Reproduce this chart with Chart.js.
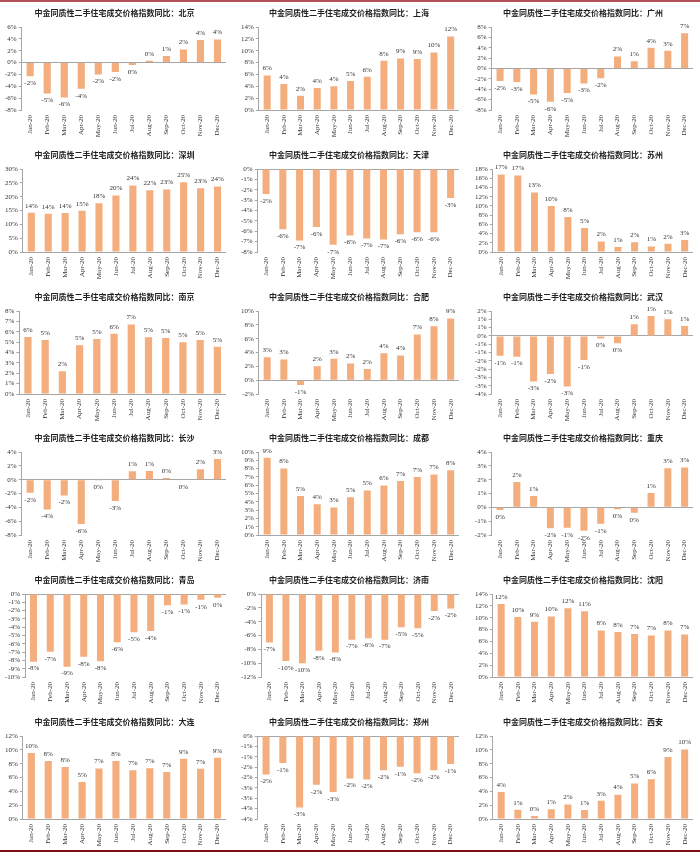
<!DOCTYPE html>
<html>
<head>
<meta charset="utf-8">
<script src="https://cdn.jsdelivr.net/npm/chart.js@4"></script>
<style>
  body { margin: 0; background: #fff; }
  #wrap { position: relative; width: 700px; height: 853px; overflow: hidden; }
  #wrap canvas { position: absolute; }
  .rule { position: absolute; left: 0; width: 700px; }
</style>
</head>
<body>
<div id="wrap">
  <div class="rule" style="top:0;height:2px;background:#b4505a;"></div>
  <div class="rule" style="top:850px;height:2px;background:#7a1216;"></div>
</div>
<script>
const months = ["Jan-20", "Feb-20", "Mar-20", "Apr-20", "May-20", "Jun-20",
  "Jul-20", "Aug-20", "Sep-20", "Oct-20", "Nov-20", "Dec-20"];
const titlePrefix = "中金同质性二手住宅成交价格指数同比：";

// YoY %
const beijing = [-2.3, -5.2, -5.9, -4.4, -2.0, -1.6, -0.4, 0.3, 1.1, 2.2, 3.8, 3.9];
const shanghai = [5.8, 4.4, 2.4, 3.7, 4.0, 4.9, 5.6, 8.3, 8.7, 8.6, 9.7, 12.4];
const guangzhou = [-2.4, -2.6, -5.0, -6.4, -4.7, -2.9, -1.9, 2.3, 1.4, 4.0, 3.4, 6.8];
const shenzhen = [14.2, 13.8, 14.1, 14.9, 17.6, 20.4, 24.0, 22.3, 22.6, 25.2, 23.0, 23.7];
const tianjin = [-2.4, -5.8, -6.9, -5.6, -7.3, -6.4, -6.7, -6.8, -6.3, -6.1, -6.1, -2.8];
const suzhou = [16.8, 16.6, 12.9, 10.0, 7.6, 5.2, 2.3, 1.1, 2.1, 1.2, 1.8, 2.6];
const nanjing = [5.5, 5.2, 2.2, 4.7, 5.3, 5.8, 6.7, 5.48, 5.4, 5.0, 5.2, 4.55];
const hefei = [3.3, 3.0, -0.7, 2.0, 3.1, 2.4, 1.6, 3.9, 3.55, 6.6, 7.8, 8.9];
const wuhan = [-1.2, -1.25, -2.75, -2.3, -3.05, -1.45, -0.15, -0.45, 0.7, 1.2, 1.0, 0.6];
const changsha = [-1.9, -4.3, -2.3, -6.4, -0.02, -3.1, 1.2, 1.25, 0.25, -0.1, 1.52, 3.0];
const chengdu = [9.3, 8.0, 4.7, 3.7, 3.3, 4.55, 5.35, 5.95, 6.52, 7.0, 7.3, 7.8];
const chongqing = [-0.2, 1.83, 0.82, -1.52, -1.47, -1.7, -1.18, -0.14, -0.4, 1.04, 2.82, 2.88];
const qingdao = [-8.15, -6.95, -8.75, -7.55, -8.1, -5.8, -4.6, -4.45, -1.35, -1.25, -0.7, -0.45];
const jinan = [-7.0, -9.7, -10.0, -8.2, -8.45, -6.6, -6.4, -6.6, -4.8, -4.95, -2.45, -2.1];
const shenyang = [12.3, 10.1, 9.3, 10.2, 11.6, 11.1, 7.85, 7.6, 7.25, 7.0, 7.85, 7.15];
const dalian = [9.55, 8.4, 7.52, 5.35, 7.3, 8.4, 7.05, 7.35, 6.8, 8.7, 7.25, 8.85];
const zhengzhou = [-1.85, -1.3, -3.45, -2.35, -2.7, -2.05, -2.1, -1.65, -1.48, -1.8, -1.65, -1.35];
const xian = [3.9, 1.35, 0.45, 1.4, 2.1, 1.3, 2.65, 3.52, 5.15, 5.75, 8.95, 10.05];

const cities = ["北京", "上海", "广州", "深圳", "天津", "苏州", "南京", "合肥", "武汉",
  "长沙", "成都", "重庆", "青岛", "济南", "沈阳", "大连", "郑州", "西安"];
const series = [beijing, shanghai, guangzhou, shenzhen, tianjin, suzhou, nanjing, hefei, wuhan,
  changsha, chengdu, chongqing, qingdao, jinan, shenyang, dalian, zhengzhou, xian];
// y axis ranges per panel
const yMin = [-8, 0, -8, 0, -8, 0, 0, -2, -3.5, -8, 0, -2, -10, -12, 0, 0, -4, 0];
const yMax = [6, 14, 8, 30, 0, 18, 8, 10, 1.5, 4, 10, 4, 0, 0, 14, 12, 0, 12];
const yStep = [2, 2, 2, 5, 1, 2, 1, 2, 0.5, 2, 1, 1, 1, 2, 2, 2, 0.5, 2];

const colLeft = [0, 236, 470];
const colWidth = [233, 230, 230];
const barColor = "#f4ad7d";
const axisColor = "#a6a6a6";

// excel style rounding: half away from zero
function pct(v) {
  const r = Math.sign(v) * Math.round(Math.abs(v));
  return (r === 0 ? 0 : r) + "%";
}

const valueLabels = {
  id: "valueLabels",
  afterDatasetsDraw(chart) {
    const ctx = chart.ctx;
    const meta = chart.getDatasetMeta(0);
    const data = chart.data.datasets[0].data;
    ctx.save();
    ctx.font = '7px "Liberation Serif"';
    ctx.fillStyle = "#333";
    ctx.textAlign = "center";
    ctx.textBaseline = "middle";
    meta.data.forEach((bar, i) => {
      const v = data[i];
      ctx.fillText(pct(v), bar.x, v < 0 ? bar.y + 7 : bar.y - 7);
    });
    ctx.restore();
  },
};

const wrap = document.getElementById("wrap");
cities.forEach((city, i) => {
  const row = Math.floor(i / 3);
  const col = i % 3;
  const canvas = document.createElement("canvas");
  canvas.width = colWidth[col];
  canvas.height = 142;
  canvas.style.left = colLeft[col] + "px";
  canvas.style.top = Math.round(row * 141.8) + "px";
  wrap.appendChild(canvas);

  new Chart(canvas, {
    type: "bar",
    data: {
      labels: months,
      datasets: [
        {
          data: series[i],
          backgroundColor: barColor,
          borderWidth: 0,
          barPercentage: 0.42,
          categoryPercentage: 1,
        },
      ],
    },
    options: {
      responsive: false,
      animation: false,
      devicePixelRatio: 1,
      layout: {
        padding: { left: 3, right: 7, top: 4, bottom: 0 },
      },
      scales: {
        x: {
          grid: { display: false, drawTicks: false },
          border: { display: false },
          ticks: {
            autoSkip: false,
            minRotation: 90,
            maxRotation: 90,
            padding: 5,
            color: "#333",
            font: { family: "Liberation Serif", size: 7 },
          },
          afterFit(scale) {
            scale.height = 32;
          },
        },
        y: {
          min: yMin[i],
          max: yMax[i],
          ticks: {
            stepSize: yStep[i],
            autoSkip: false,
            padding: 2,
            color: "#333",
            font: { family: "Liberation Serif", size: 7 },
            callback: (v) => pct(v),
          },
          grid: {
            color: (c) => (c.tick && c.tick.value === 0 ? axisColor : "rgba(0,0,0,0)"),
            tickColor: axisColor,
            tickLength: 3,
          },
          border: { display: true, color: axisColor },
        },
      },
      plugins: {
        legend: { display: false },
        tooltip: { enabled: false },
        title: {
          display: true,
          text: titlePrefix + city,
          color: "#222",
          font: { family: "Noto Sans CJK SC", size: 8, weight: "bold" },
          padding: { top: 4, bottom: 9.4 },
        },
      },
    },
    plugins: [valueLabels],
  });
});
</script>
</body>
</html>
